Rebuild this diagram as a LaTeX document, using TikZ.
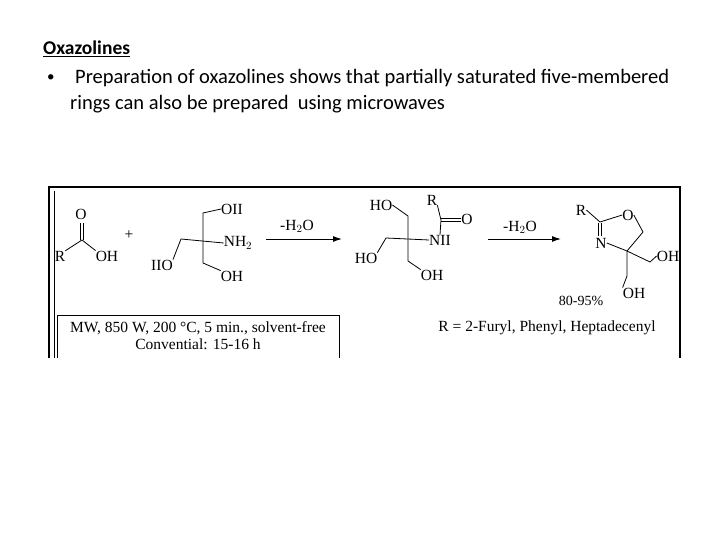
\documentclass[tikz,border=0pt]{standalone}
\usepackage{fontspec}
\setmainfont{Carlito}
\newfontfamily\tms{Liberation Serif}
\usetikzlibrary{arrows.meta}
\begin{document}
\begin{tikzpicture}[x=1pt,y=-1pt,
  lab/.style={font=\tms\fontsize{15.5}{15.5}\selectfont,inner sep=0pt},
  bd/.style={line width=0.8pt},
  rx/.style={line width=1pt,-{Latex[length=9pt,width=6pt]}},
  hd/.style={font=\fontsize{20.5}{24}\selectfont,inner sep=0pt,anchor=west}]
\useasboundingbox (0,0) rectangle (720,540);
% header
\node[hd,font=\bfseries\fontsize{19.5}{24}\selectfont] (t) at (43,49) {\underline{Oxazolines}};
\node[hd,font=\fontsize{15}{20}\selectfont] (b) at (47,78) {\textbullet};
\node[hd] (l1) at (75,78) {Preparation of oxazolines shows that partially saturated five-membered};
\node[hd] (l2) at (70,104) {rings can also be prepared\ \ using microwaves};
% frame
\draw[line width=2.5pt] (49,358) -- (49,187) -- (680,187) -- (680,358);
\draw[line width=0.6pt] (54.5,358) -- (54.5,191);
% acid
\node[lab] (aR) at (60,256) {R};
\node[lab] (aO) at (81,214) {O};
\node[lab] (aOH) at (107,256) {OH};
\coordinate (aC) at (82,240);
\draw[bd] (aR.north east) -- (aC) -- (aOH.north west);
\draw[bd] (80.5,240) -- (80.5,223) (83.5,240) -- (83.5,223);
\node[lab] (plus) at (129,235) {+};
% tris
\coordinate (tT) at (203,213);
\coordinate (tL) at (181,239);
\coordinate (tB) at (203,263);
\node[lab] (tOH1) at (232,209) {OII};
\node[lab] (tNH) at (238,243) {NH$_2$};
\node[lab] (tHO) at (162,265) {IIO};
\node[lab] (tOH2) at (232,276) {OH};
\draw[bd] (tOH1.west) -- (tT) -- (tB) -- (tOH2.north west);
\draw[bd] (tHO.north east) -- (tL) -- (tNH.west);
% arrow 1
\coordinate (a1s) at (266,239); \coordinate (a1e) at (342,239);
\draw[rx] (a1s) -- (a1e);
\node[lab] (w1) at (297,226) {-H$_2$O};
% intermediate
\coordinate (iT) at (408,216);
\coordinate (iB) at (408,261);
\coordinate (iL) at (386,238);
\node[lab] (iHO1) at (381,205) {HO};
\node[lab] (iHO2) at (366,258) {HO};
\node[lab] (iOH) at (432,275) {OH};
\node[lab] (iN) at (440,240) {NII};
\node[lab] (iR) at (432,200) {R};
\node[lab] (iO) at (467,219) {O};
\coordinate (iC) at (441,220);
\draw[bd] (iHO1.east) -- (iT) -- (iB) -- (iOH.north west);
\draw[bd] (iHO2.north east) -- (iL) -- (iN.west);
\draw[bd] (iN.north) -- (iC) -- (iR.south east);
\draw[bd] (441,218.5) -- (iO.west |- 0,218.5) (441,221.5) -- (iO.west |- 0,221.5);
% arrow 2
\coordinate (a2s) at (488,239); \coordinate (a2e) at (561,239);
\draw[rx] (a2s) -- (a2e);
\node[lab] (w2) at (520,227) {-H$_2$O};
% oxazoline
\node[lab] (oR) at (581,210) {R};
\node[lab] (oO) at (628,215) {O};
\node[lab] (oN) at (601,243) {N};
\coordinate (oC2) at (600,222);
\coordinate (oC5) at (643,232);
\coordinate (oC4) at (627,251);
\coordinate (oM1) at (650,262);
\coordinate (oM2) at (627,276);
\node[lab] (oOH1) at (668,256) {OH};
\node[lab] (oOH2) at (634,293) {OH};
\draw[bd] (oR.east) -- (oC2) -- (oO.west);
\draw[bd] (oO.east) -- (oC5) -- (oC4) -- (oN.east);
\draw[bd] (598.5,223) -- (598.5,236) (601.5,223) -- (601.5,236);
\draw[bd] (oC4) -- (oM1) -- (oOH1.west);
\draw[bd] (oC4) -- (oM2) -- (oOH2.north west);
\node[lab,font=\tms\fontsize{14}{14}\selectfont] (yld) at (581,301) {80-95\%};
% conditions box
\draw[line width=0.6pt] (57,358) -- (57,315) -- (339,315) -- (339,358);
\node[lab,font=\tms\fontsize{15.5}{17}\selectfont,align=center] (cond) at (198,336) {MW, 850 W, 200 \textdegree C, 5 min., solvent-free\\Convential: 15-16 h};
\node[lab,font=\tms\fontsize{15.5}{17}\selectfont] (rdef) at (547,328) {R = 2-Furyl, Phenyl, Heptadecenyl};
\end{tikzpicture}
\end{document}
